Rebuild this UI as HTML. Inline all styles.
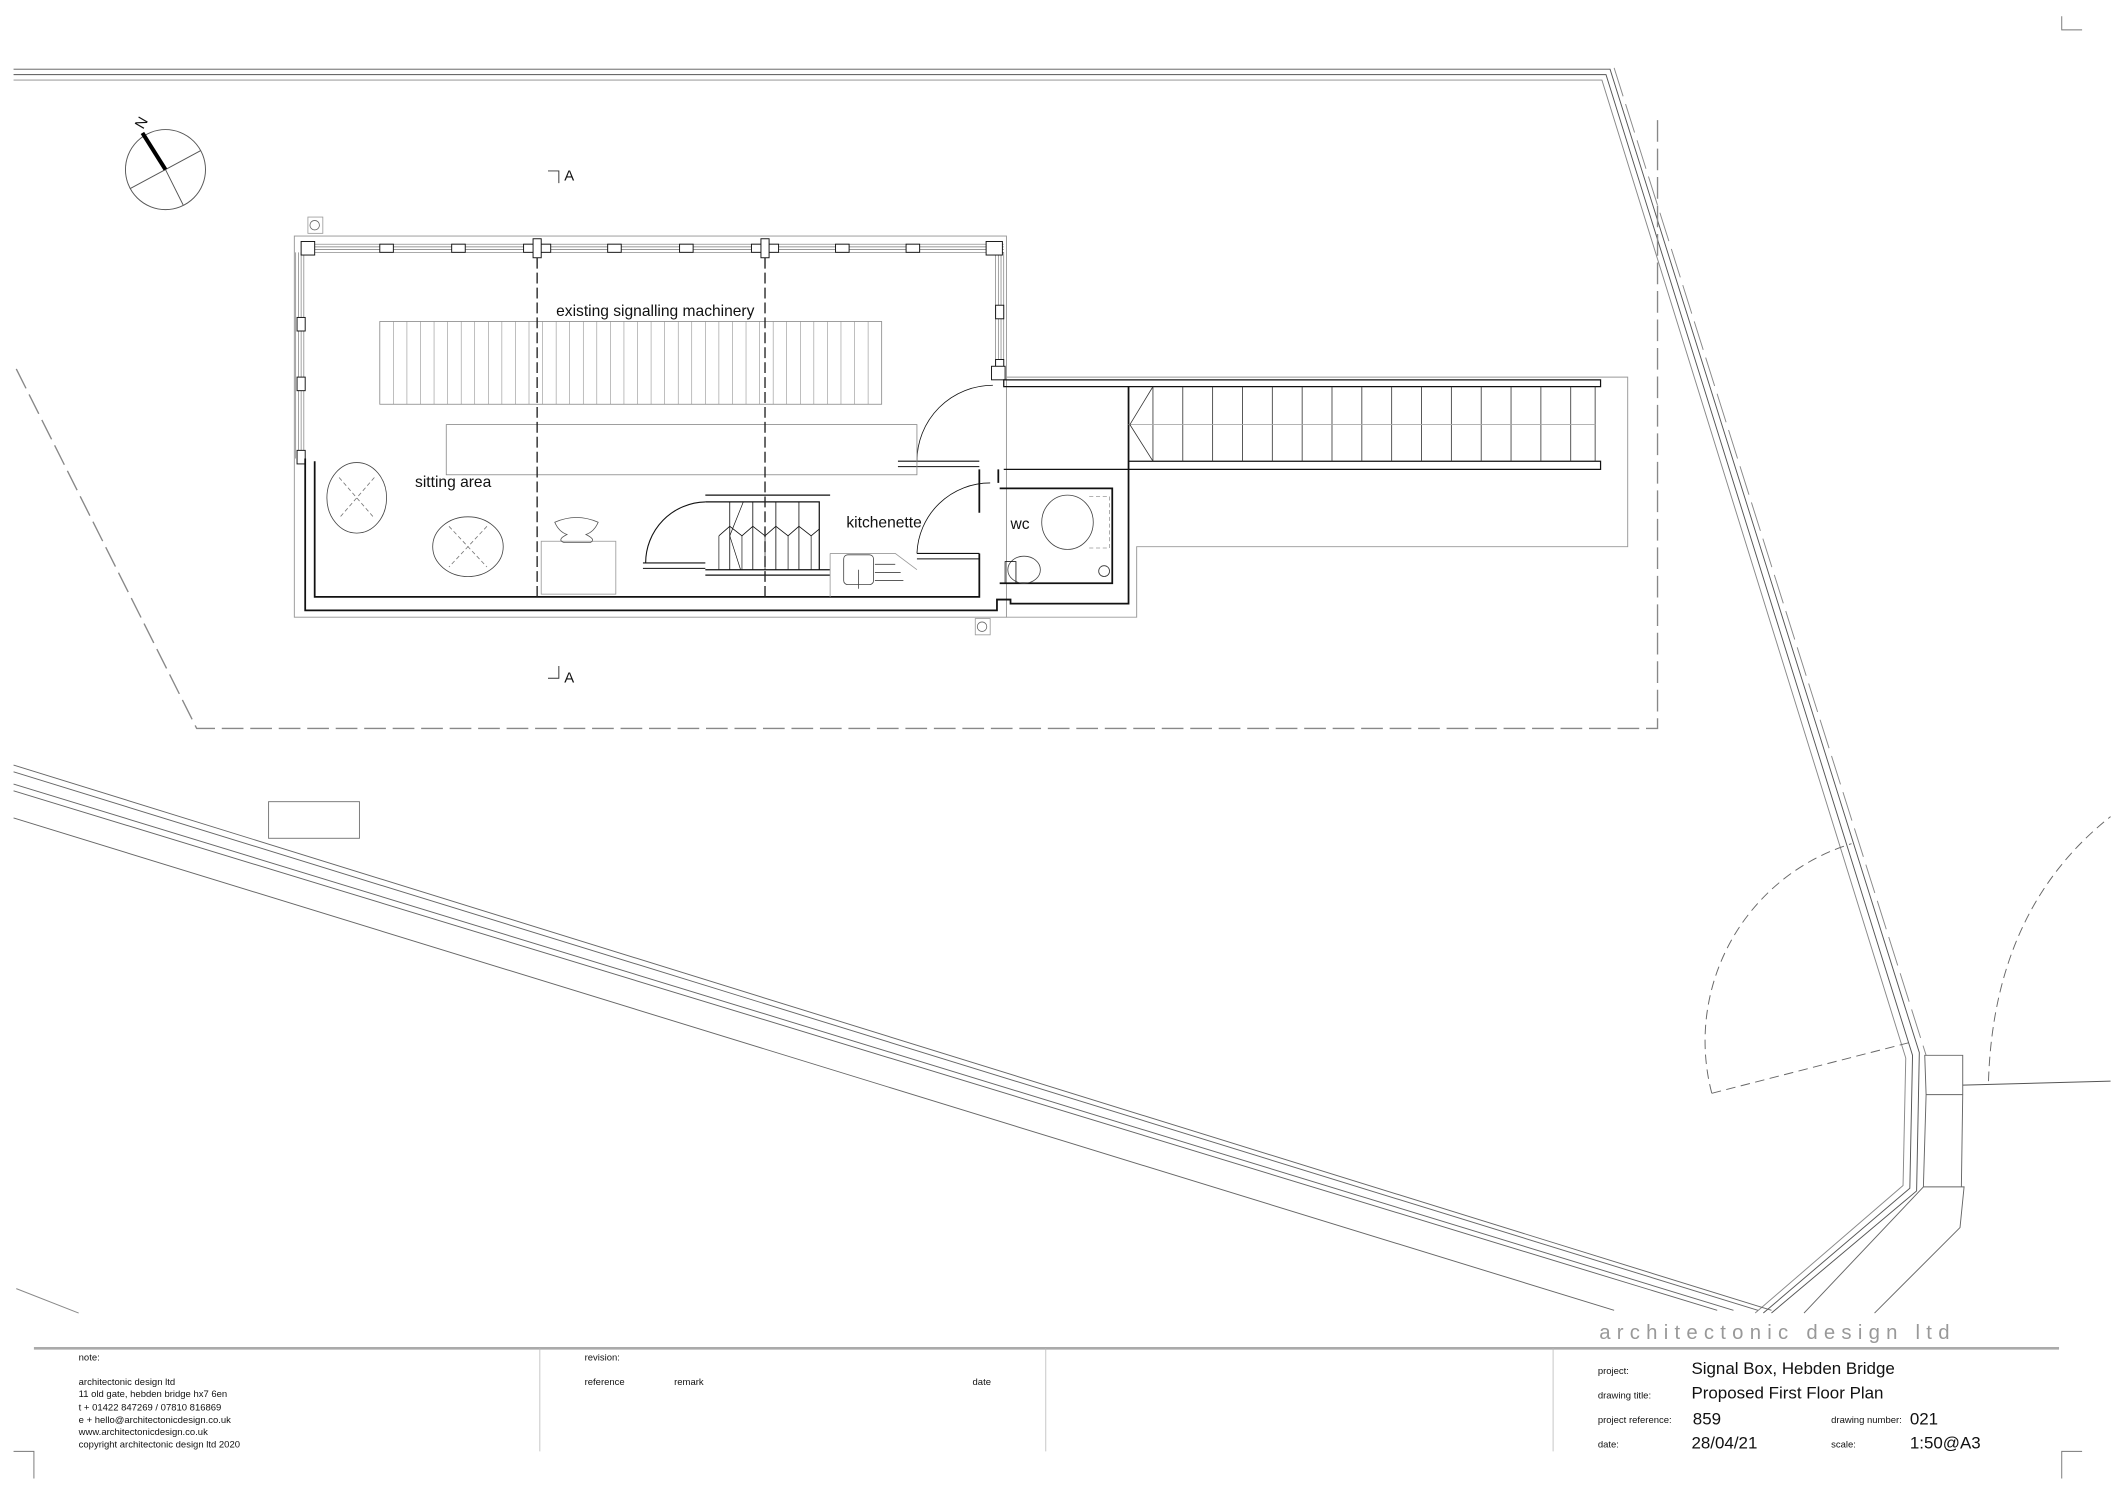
<!DOCTYPE html>
<html><head><meta charset="utf-8"><style>
html,body{margin:0;padding:0;background:#fff}
svg{display:block}
text{font-family:"Liberation Sans",sans-serif;fill:#111}
.n{font-family:"Liberation Sans Narrow","Liberation Sans",sans-serif}
</style></head><body>
<svg width="2116" height="1497" viewBox="0 0 1560 1103.6" xmlns="http://www.w3.org/2000/svg">
<g fill="none" stroke="#555" stroke-width="0.7">
<path d="M1520,12 V22 H1535 M10,1070 H25 V1090 M1520,1090 V1070 H1535" stroke="#777"/>
<path d="M10,51 H1187 L1415,776 L1413,878 L1306,968"/>
<path d="M10,55 H1184 L1410,778 L1408,876 L1300,968"/>
<path d="M10,59 H1181 L1405,780 L1403,874 L1294,968" stroke="#888"/>
<path d="M1190,50 L1420,778" stroke="#888" stroke-dasharray="22,6"/>
<path d="M1419,778 H1447 V807 H1420 Z M1420,807 L1418,875 H1446 L1447,807 M1418,875 L1448,875 L1445,905 L1382,968 M1418,875 L1330,968" stroke="#666"/>
<path d="M1447,800 L1556,797"/>
<path d="M1262,806 A152,152 0 0 1 1365,622" stroke-dasharray="7,4" stroke="#666"/>
<path d="M1262,806 L1410,768" stroke-dasharray="7,4" stroke="#666"/>
<path d="M1466,797 Q1470,670 1556,602" stroke-dasharray="7,4" stroke="#666"/>
<path d="M10,564 L1306,966 M10,569 L1296,966 M10,578 L1278,966 M10,583 L1266,966 M10,603 L1190,966" stroke="#666"/>
<path d="M12,950 L58,968" stroke="#888"/>
<path d="M12,272 L145,537 H1222 V84" stroke="#888" stroke-dasharray="16,5" stroke-width="1"/>
<rect x="198" y="591" width="67" height="27" stroke="#777"/>
<circle cx="122" cy="125" r="29.5"/>
<path d="M122,125 L96,139 M122,125 L135,151 M122,125 L148,111"/>
<path d="M122,125 L105,98" stroke="#000" stroke-width="3"/>
<path d="M404,126 H412 V135 M404,500 H412 V491" stroke="#333"/>
<rect x="217" y="174" width="525" height="281" stroke="#999"/>
<path d="M742,278 H1200 V403 H838 V455 H742" stroke="#999"/>
<path d="M222,180 H740 M222,182 H740 M222,184 H740 M222,186 H740" stroke="#777" stroke-width="0.5"/>
<path d="M218,186 V338 M220,186 V338 M222,186 V338 M224,186 V338" stroke="#777" stroke-width="0.5"/>
<path d="M734,186 V272 M736,186 V272 M738,186 V272 M740,186 V272" stroke="#777" stroke-width="0.5"/>
</g>
<g fill="#fff" stroke="#111" stroke-width="0.7">
<rect x="222" y="178" width="10" height="10"/><rect x="727" y="178" width="12" height="10"/>
<rect x="280" y="180" width="10" height="6"/><rect x="333" y="180" width="10" height="6"/>
<rect x="448" y="180" width="10" height="6"/><rect x="501" y="180" width="10" height="6"/>
<rect x="616" y="180" width="10" height="6"/><rect x="668" y="180" width="10" height="6"/>
<rect x="386" y="180" width="20" height="6"/><rect x="393" y="176" width="6" height="14"/>
<rect x="554" y="180" width="20" height="6"/><rect x="561" y="176" width="6" height="14"/>
<rect x="219" y="234" width="6" height="10"/><rect x="219" y="278" width="6" height="10"/>
<rect x="219" y="332" width="6" height="10"/>
<rect x="734" y="225" width="6" height="10"/><rect x="734" y="265" width="6" height="10"/>
<rect x="731" y="270" width="10" height="10"/>
</g>
<g fill="none" stroke="#111" stroke-width="1.3">
<path d="M225,338 V450 H735 V442 H745 V445 H832 V346"/>
<path d="M232,340 V440 H722 V408"/>
<path d="M722,378 V346 M736,346 V356"/>
<path d="M740,280 H1180 V285 H740 Z" stroke-width="0.9"/>
<path d="M832,340 H1180 V346 H740" stroke-width="0.9"/>
<path d="M832,285 V346"/>
<path d="M737,360 H820 V430 H737"/>
<path d="M676,340 A56,56 0 0 1 732,284" stroke-width="0.6"/>
<path d="M662,340 H722 M662,344 H722" stroke-width="0.8"/>
<path d="M676,408 A54,54 0 0 1 730,356" stroke-width="0.6"/>
<path d="M676,408 H722 M676,412 H722" stroke-width="0.8"/>
<path d="M476,415 A45,45 0 0 1 520,370" stroke-width="0.8"/>
<path d="M474,415 H520 M474,419 H520" stroke-width="0.8"/>
<path d="M520,365 H612 M520,370 H604 V420 H520 M520,420 H612 M520,424 H612" stroke-width="0.9"/>
<path d="M538,370 V420 M555,370 V420 M572,370 V420 M589,370 V420" stroke-width="0.6"/>
<path d="M530,395 L538,388 L547,395 L555,388 L564,395 L572,388 L581,395 L589,388 L598,395 L604,390" stroke-width="0.6"/>
<path d="M530,395 V420 M547,395 V420 M564,395 V420 M581,395 V420 M598,395 V420 M548,370 L538,395 L546,420" stroke-width="0.5"/>
</g>
<g fill="none" stroke="#666" stroke-width="0.6">
<path d="M850,285 V340 M872,285 V340 M894,285 V340 M916,285 V340 M938,285 V340 M960,285 V340 M982,285 V340 M1004,285 V340 M1026,285 V340 M1048,285 V340 M1070,285 V340 M1092,285 V340 M1114,285 V340 M1136,285 V340 M1158,285 V340 M1176,285 V340" stroke="#333"/>
<path d="M832,313 H1176" stroke="#aaa"/>
<path d="M850,285 L833,313 L850,340" stroke="#333"/>
<rect x="280" y="237" width="370" height="61" stroke="#888"/>
<path d="M290,237V298M300,237V298M310,237V298M320,237V298M330,237V298M340,237V298M350,237V298M360,237V298M370,237V298M380,237V298M390,237V298M400,237V298M410,237V298M420,237V298M430,237V298M440,237V298M450,237V298M460,237V298M470,237V298M480,237V298M490,237V298M500,237V298M510,237V298M520,237V298M530,237V298M540,237V298M550,237V298M560,237V298M570,237V298M580,237V298M590,237V298M600,237V298M610,237V298M620,237V298M630,237V298M640,237V298" stroke="#888" stroke-width="0.4"/>
<rect x="329" y="313" width="347" height="37" stroke="#888"/>
<path d="M396,190 V440 M564,190 V440" stroke="#222" stroke-width="1" stroke-dasharray="8,3"/>
<ellipse cx="263" cy="367" rx="22" ry="26" stroke="#444"/>
<path d="M250,352 L276,382 M276,352 L250,382" stroke="#777" stroke-dasharray="3,2"/>
<ellipse cx="345" cy="403" rx="26" ry="22" stroke="#444"/>
<path d="M331,388 L359,418 M359,388 L331,418" stroke="#777" stroke-dasharray="3,2"/>
<rect x="399" y="399" width="55" height="39" stroke="#999"/>
<path d="M409,385 Q425,378 441,385 Q438,392 432,394 Q440,398 435,400 H416 Q410,398 418,394 Q412,392 409,385Z" stroke="#555"/>
<path d="M612,408 H660 L676,420 M612,408 V440" stroke="#999"/>
<rect x="622" y="409" width="22" height="22" rx="3" stroke="#444"/>
<path d="M633,420 V434 M645,416 H660 M645,422 H664 M645,428 H666" stroke="#444"/>
<ellipse cx="787" cy="385" rx="19" ry="20" stroke="#444"/>
<path d="M803,366 H818 V404 H803" stroke="#999" stroke-dasharray="3,2"/>
<ellipse cx="755" cy="420" rx="12" ry="10" stroke="#444"/>
<rect x="741" y="414" width="8" height="16" stroke="#111"/>
<circle cx="814" cy="421" r="4" stroke="#333"/>
<rect x="227" y="160" width="11" height="12" stroke="#999"/><circle cx="232" cy="166" r="3.5"/>
<rect x="719" y="456" width="11" height="12" stroke="#999"/><circle cx="724" cy="462" r="3.5"/>
<path d="M25,994 H1518" stroke="#aaa" stroke-width="2"/>
<path d="M398,994 V1070 M771,994 V1070 M1145,994 V1070" stroke="#bbb"/>
</g>
<text x="101" y="96" font-size="11" transform="rotate(-60 103 92)">N</text>
<text x="416" y="133" font-size="11">A</text>
<text x="416" y="503" font-size="11">A</text>
<text x="410" y="233" font-size="11.5">existing signalling machinery</text>
<text x="306" y="359" font-size="11.5">sitting area</text>
<text x="624" y="389" font-size="11.5">kitchenette</text>
<text x="745" y="390" font-size="11.5">wc</text>
<text x="1179" y="987" font-size="15" letter-spacing="4.6" style="fill:#999">architectonic design ltd</text>
<g font-size="7" class="n">
<text x="58" y="1003" class="n">note:</text>
<text x="58" y="1021" class="n">architectonic design ltd</text>
<text x="58" y="1030" class="n">11 old gate, hebden bridge hx7 6en</text>
<text x="58" y="1040" class="n">t + 01422 847269 / 07810 816869</text>
<text x="58" y="1049" class="n">e + hello@architectonicdesign.co.uk</text>
<text x="58" y="1058" class="n">www.architectonicdesign.co.uk</text>
<text x="58" y="1067" class="n">copyright architectonic design ltd 2020</text>
<text x="431" y="1003" class="n">revision:</text>
<text x="431" y="1021" class="n">reference</text>
<text x="497" y="1021" class="n">remark</text>
<text x="717" y="1021" class="n">date</text>
<text x="1178" y="1013" class="n">project:</text>
<text x="1178" y="1031" class="n">drawing title:</text>
<text x="1178" y="1049" class="n">project reference:</text>
<text x="1350" y="1049" class="n">drawing number:</text>
<text x="1178" y="1067" class="n">date:</text>
<text x="1350" y="1067" class="n">scale:</text>
</g>
<g font-size="12.5">
<text x="1247" y="1013" class="n">Signal Box, Hebden Bridge</text>
<text x="1247" y="1031" class="n">Proposed First Floor Plan</text>
<text x="1248" y="1050" class="n">859</text>
<text x="1408" y="1050" class="n">021</text>
<text x="1247" y="1068" class="n">28/04/21</text>
<text x="1408" y="1068" class="n">1:50@A3</text>
</g>
</svg>
</body></html>
